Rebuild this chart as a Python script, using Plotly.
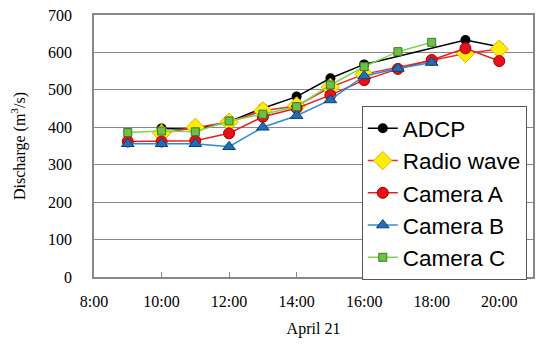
import plotly.graph_objects as go

tick_vals = [8, 10, 12, 14, 16, 18, 20]
tick_text = ["8:00", "10:00", "12:00", "14:00", "16:00", "18:00", "20:00"]

adcp_x = [10, 11, 12, 13, 14, 15, 16, 19, 20]
adcp_y = [397, 395, 415, 451, 482, 531, 568, 633, 615]

radio_x = [10, 11, 12, 13, 14, 15, 16, 19, 20]
radio_y = [384, 400, 414, 444, 457, 507, 542, 597, 609]

cam_a_x = [9, 10, 11, 12, 13, 14, 15, 16, 17, 18, 19, 20]
cam_a_y = [362, 362, 364, 384, 428, 451, 486, 526, 556, 580, 611, 577]

cam_b_x = [9, 10, 11, 12, 13, 14, 15, 16, 17, 18]
cam_b_y = [356, 356, 356, 348, 400, 431, 473, 537, 557, 573]

cam_c_x = [9, 10, 11, 12, 13, 14, 15, 16, 17, 18]
cam_c_y = [386, 390, 388, 417, 435, 455, 513, 562, 602, 627]

SERIF = "Times New Roman, Liberation Serif, serif"

fig = go.Figure()
fig.add_trace(go.Scatter(x=adcp_x, y=adcp_y, name="ADCP", mode="lines+markers",
                         line=dict(color="black", width=1.5),
                         marker=dict(symbol="circle", size=10, color="black")))
fig.add_trace(go.Scatter(x=radio_x, y=radio_y, name="Radio wave", mode="lines+markers",
                         line=dict(color="#e8302a", width=1.5),
                         marker=dict(symbol="diamond", size=14, color="#ffee00",
                                     line=dict(color="#e8b000", width=1))))
fig.add_trace(go.Scatter(x=cam_a_x, y=cam_a_y, name="Camera A", mode="lines+markers",
                         line=dict(color="#e02020", width=1.5),
                         marker=dict(symbol="circle", size=11, color="#e8101a",
                                     line=dict(color="#a00000", width=1))))
fig.add_trace(go.Scatter(x=cam_b_x, y=cam_b_y, name="Camera B", mode="lines+markers",
                         line=dict(color="#2e8bd0", width=1.5),
                         marker=dict(symbol="triangle-up", size=11, color="#1f6fb8",
                                     line=dict(color="#0d3f73", width=1))))
fig.add_trace(go.Scatter(x=cam_c_x, y=cam_c_y, name="Camera C", mode="lines+markers",
                         line=dict(color="#7ed34f", width=1.5),
                         marker=dict(symbol="square", size=8, color="#6cc04a",
                                     line=dict(color="#3a7a20", width=1))))

fig.update_layout(
    width=534, height=333,
    margin=dict(l=86, r=9, t=7, b=64, autoexpand=False),
    plot_bgcolor="white", paper_bgcolor="white",
    showlegend=True,
    legend=dict(x=0.61, y=0.652, xanchor="left", yanchor="top",
                bgcolor="white", bordercolor="#555555", borderwidth=1,
                font=dict(family="Liberation Sans", size=22.5, color="black"),
                tracegroupgap=0, itemwidth=30),
    font=dict(family=SERIF, size=16, color="black"),
)
fig.update_xaxes(range=[8, 21], tickvals=tick_vals, ticktext=tick_text,
                 showgrid=False, showline=True, linecolor="#888888", linewidth=1.5,
                 mirror=True, ticks="inside", ticklen=5, tickcolor="#888888",
                 ticklabelstandoff=9, automargin=False, ticklabeloverflow="allow",
                 title=dict(text="April 21", font=dict(family=SERIF, size=16), standoff=14),
                 tickfont=dict(family=SERIF, size=16))
fig.update_yaxes(range=[0, 700], dtick=100, showgrid=True, gridcolor="#888888", gridwidth=1,
                 showline=True, linecolor="#888888", linewidth=1.5, mirror=True,
                 ticks="", zeroline=False, ticklabelstandoff=17, automargin=False,
                 ticklabeloverflow="allow",
                 title=dict(text="Discharge (m<sup>3</sup>/s)", font=dict(family=SERIF, size=16), standoff=21),
                 tickfont=dict(family=SERIF, size=16))

fig.write_html("out.html")
